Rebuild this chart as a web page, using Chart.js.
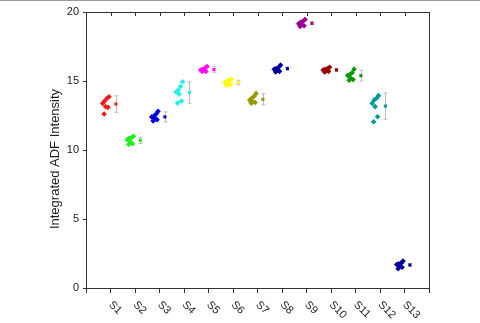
<!DOCTYPE html>
<html>
<head>
<meta charset="utf-8">
<script src="https://cdn.jsdelivr.net/npm/chart.js@4/dist/chart.umd.min.js"></script>
<style>
  html, body { margin: 0; padding: 0; background: #fff; }
  #wrap { width: 480px; height: 323px; }
</style>
</head>
<body>
<div id="wrap"><canvas id="chart" width="480" height="323"></canvas></div>
<script>
// sample names
const categories = ['S1', 'S2', 'S3', 'S4', 'S5', 'S6', 'S7', 'S8', 'S9', 'S10', 'S11', 'S12', 'S13'];

const s1 = [13.86, 13.75, 13.55, 13.38, 13.14, 13.09, 12.61];
const s2 = [11.0, 10.9, 10.85, 10.75, 10.6, 10.45, 10.4];
const s3 = [12.8, 12.6, 12.45, 12.4, 12.3, 12.2, 12.1];
const s4 = [14.95, 14.6, 14.35, 14.2, 14.05, 13.55, 13.4];
const s5 = [16.05, 15.95, 15.85, 15.8, 15.75, 15.7, 15.7];
const s6 = [15.15, 15.05, 15.0, 14.9, 14.85, 14.75, 14.7];
const s7 = [14.1, 13.9, 13.75, 13.6, 13.5, 13.45, 13.4];
const s8 = [16.15, 16.0, 15.9, 15.85, 15.8, 15.7, 15.65];
const s9 = [19.45, 19.35, 19.25, 19.15, 19.1, 19.0, 18.95];
const s10 = [16.0, 15.9, 15.85, 15.8, 15.75, 15.7, 15.65];
const s11 = [15.85, 15.6, 15.45, 15.4, 15.2, 15.1, 15.05];
const s12 = [13.94, 13.75, 13.62, 13.38, 13.14, 12.41, 12.05];
const s13 = [1.95, 1.8, 1.75, 1.7, 1.6, 1.5, 1.4];

// horizontal spread of the points left of each sample position
const jitter = [-0.06, -0.14, -0.24, -0.32, -0.2, -0.1, -0.26];

// mean and error bar of each sample
const means = [13.33, 10.7, 12.4, 14.16, 15.83, 14.9, 13.67, 15.9, 19.18, 15.8, 15.38, 13.18, 1.67];
const errors = [0.6, 0.22, 0.36, 0.77, 0.2, 0.15, 0.4, 0.12, 0.1, 0.12, 0.39, 0.95, 0.1];

const yTicks = [0, 5, 10, 15, 20];

const colors = ['#ee1c1c', '#22ee22', '#0000dd', '#22eeee', '#ff10ff', '#ffff00', '#9a9a00',
                '#000099', '#990099', '#990000', '#009900', '#009999', '#000099'];

const samples = [s1, s2, s3, s4, s5, s6, s7, s8, s9, s10, s11, s12, s13];
const meanOffset = 0.22;

const datasets = [];
samples.forEach(function (vals, i) {
    datasets.push({
        data: vals.map(function (v, j) { return { x: i + 1 + jitter[j], y: v }; }),
        backgroundColor: colors[i],
        borderColor: colors[i],
        pointStyle: 'rectRot',
        pointRadius: 2.8,
        borderWidth: 0
    });
});
datasets.push({
    data: means.map(function (m, i) { return { x: i + 1 + meanOffset, y: m }; }),
    backgroundColor: colors,
    borderColor: colors,
    pointStyle: 'rect',
    pointRadius: 2.2,
    borderWidth: 0
});

// error bars, frame, top ticks and slanted labels
const decor = {
    id: 'decor',
    beforeDatasetsDraw(chart) {
        const ctx = chart.ctx;
        const xs = chart.scales.x, ys = chart.scales.y;
        ctx.save();
        ctx.strokeStyle = '#bbbbbb';
        ctx.lineWidth = 1;
        means.forEach(function (m, i) {
            const px = Math.round(xs.getPixelForValue(i + 1 + meanOffset)) + 0.5;
            const top = ys.getPixelForValue(m + errors[i]);
            const bot = ys.getPixelForValue(m - errors[i]);
            ctx.beginPath();
            ctx.moveTo(px, top); ctx.lineTo(px, bot);
            ctx.moveTo(px - 2, top); ctx.lineTo(px + 2, top);
            ctx.moveTo(px - 2, bot); ctx.lineTo(px + 2, bot);
            ctx.stroke();
        });
        ctx.restore();
    },
    afterDraw(chart) {
        const ctx = chart.ctx;
        const a = chart.chartArea;
        const xs = chart.scales.x;
        ctx.save();
        // thin figure border along the top
        ctx.strokeStyle = '#9a9a9a';
        ctx.beginPath();
        ctx.moveTo(0, 0.5); ctx.lineTo(chart.width, 0.5);
        ctx.stroke();
        ctx.lineWidth = 1;
        ctx.strokeStyle = '#333';
        ctx.strokeRect(Math.round(a.left) + 0.5, Math.round(a.top) + 0.5,
                       Math.round(a.right - a.left), Math.round(a.bottom - a.top));
        // inward ticks on the top edge
        ctx.beginPath();
        for (let i = 1; i <= categories.length; i++) {
            const px = Math.round(xs.getPixelForValue(i)) + 0.5;
            ctx.moveTo(px, a.top);
            ctx.lineTo(px, a.top + 4);
        }
        ctx.stroke();
        // category labels, turned clockwise
        ctx.fillStyle = '#222';
        ctx.font = '11px Arial, "Liberation Sans", sans-serif';
        ctx.textAlign = 'left';
        ctx.textBaseline = 'middle';
        categories.forEach(function (c, i) {
            const px = xs.getPixelForValue(i + 1);
            ctx.save();
            ctx.translate(px, a.bottom + 15);
            ctx.rotate(Math.PI / 4);
            ctx.fillText(c, 0, 0);
            ctx.restore();
        });
        // y axis title
        ctx.font = '13px Arial, "Liberation Sans", sans-serif';
        ctx.textAlign = 'center';
        ctx.fillStyle = '#1a1a1a';
        ctx.translate(55, 159);
        ctx.rotate(-Math.PI / 2);
        ctx.fillText('Integrated ADF Intensity', 0, 0);
        ctx.restore();
    }
};

new Chart(document.getElementById('chart'), {
    type: 'scatter',
    data: { datasets: datasets },
    options: {
        responsive: false,
        animation: false,
        layout: { padding: { top: 12, right: 51, left: 0, bottom: 0 } },
        plugins: { legend: { display: false }, tooltip: { enabled: false } },
        scales: {
            x: {
                type: 'linear',
                min: 0,
                max: categories.length + 1,
                border: { display: false },
                grid: { drawOnChartArea: false, tickLength: 5, color: '#333' },
                ticks: { stepSize: 1, display: false },
                afterFit: function (scale) { scale.height = 35; }
            },
            y: {
                min: yTicks[0],
                max: yTicks[yTicks.length - 1],
                border: { display: false },
                grid: { drawOnChartArea: false, tickLength: 3, color: '#333' },
                afterBuildTicks: function (scale) {
                    scale.ticks = yTicks.map(function (v) { return { value: v }; });
                },
                ticks: {
                    color: '#222',
                    padding: 4,
                    font: { family: 'Arial, "Liberation Sans", sans-serif', size: 11 }
                },
                afterFit: function (scale) { scale.width = 86; }
            }
        }
    },
    plugins: [decor]
});
</script>
</body>
</html>
